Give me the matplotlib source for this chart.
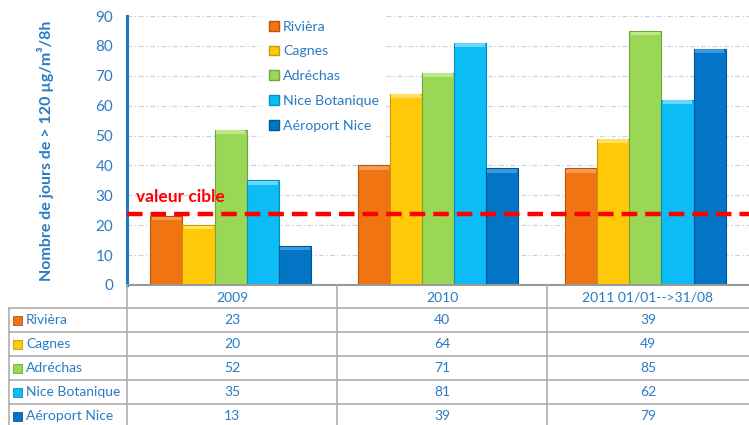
import matplotlib
matplotlib.use("Agg")
import matplotlib.pyplot as plt
import numpy as np
from matplotlib.patches import Rectangle
from matplotlib.lines import Line2D

plt.rcParams['font.family'] = ['Lato', 'DejaVu Sans']

categories = ["2009", "2010", "2011 01/01-->31/08"]
stations = ["Rivièra", "Cagnes", "Adréchas", "Nice Botanique", "Aéroport Nice"]
riviera = [23, 40, 39]
cagnes = [20, 64, 49]
adrechas = [52, 71, 85]
nice_botanique = [35, 81, 62]
aeroport_nice = [13, 39, 79]
series = [riviera, cagnes, adrechas, nice_botanique, aeroport_nice]
target_value = 23.8
target_label = "valeur cible"
ylabel = "Nombre de jours de > 120 µg/m³/8h"

colors = ["#F07512", "#FFC90A", "#9BD756", "#0BBCF5", "#0474C6"]
edges = ["#B5540A", "#C99A00", "#6FA83A", "#0590BD", "#03558F"]
tops = ["#F59A55", "#FFE060", "#BDE88A", "#6AD6FA", "#3A98DC"]
blue_txt = "#2A7BC4"

W, H = 749, 425
fig = plt.figure(figsize=(W / 100, H / 100), dpi=100)

x0, x1 = 127, 749
y_top, y_bot = 16, 285
ax = fig.add_axes([x0 / W, 1 - y_bot / H, (x1 - x0) / W, (y_bot - y_top) / H])
ax.set_xlim(-0.5, 2.5)
ax.set_ylim(0, 90)

for y in range(10, 91, 10):
    ax.axhline(y, color="#C9D3E0", lw=0.9, ls=(0, (4, 2, 1, 2)), zorder=0)

w = 0.155
xs = np.arange(len(categories))
for i, vals in enumerate(series):
    pos = xs + (i - 2) * w
    ax.bar(pos, vals, width=w, color=colors[i], edgecolor=edges[i], lw=0.8,
           label=stations[i], zorder=2)
    for p, v in zip(pos, vals):
        ax.add_patch(Rectangle((p - w / 2 + 0.006, v - 1.4), w - 0.012, 1.2, facecolor=tops[i],
                               edgecolor="none", zorder=3))

ax.axhline(target_value, color="#FF0000", lw=3.2, ls=(0, (3.5, 1.8)), zorder=4)
ax.text(-0.455, target_value + 3.0, target_label, color="#FF0000", fontsize=12.5,
        fontweight="bold", va="bottom", ha="left", zorder=5)

for s in ["top", "right"]:
    ax.spines[s].set_visible(False)
ax.spines["left"].set_color("#1E78C8")
ax.spines["left"].set_linewidth(2.2)
ax.spines["bottom"].set_color("#999999")
ax.spines["bottom"].set_linewidth(1.5)
ax.set_xticks([])
ax.set_yticks(range(0, 91, 10))
ax.tick_params(axis="y", length=0, labelcolor=blue_txt, labelsize=11, pad=10)
ax.set_ylabel(ylabel, color=blue_txt, fontsize=11.5, fontweight="bold", labelpad=30)

handles = [Rectangle((0, 0), 1, 1, facecolor=colors[i], edgecolor=edges[i]) for i in range(5)]
leg = ax.legend(handles, stations, loc="upper left", bbox_to_anchor=((256 - x0) / (x1 - x0), 1.03),
                frameon=True, fancybox=False, edgecolor="none", facecolor="white", framealpha=1,
                fontsize=10.2, labelspacing=0.9, handlelength=0.7, handleheight=0.7,
                handletextpad=0.3, borderpad=0.4)
for t in leg.get_texts():
    t.set_color(blue_txt)
leg.set_zorder(6)

# Data table drawn in pixel coordinates
def fx(px):
    return px / W

def fy(py):
    return 1 - py / H

grid_c = "#A8A8A8"
col_edges = [127, 337, 547, 749]
row_lines = [308, 332, 356, 380, 404, 428]
label_left = 9

def hline(py, xa, xb):
    fig.add_artist(Line2D([fx(xa), fx(xb)], [fy(py), fy(py)], color=grid_c, lw=1.1))

def vline(px, ya, yb):
    fig.add_artist(Line2D([fx(px), fx(px)], [fy(ya), fy(yb)], color=grid_c, lw=1.1))

hline(308, label_left, 749)
for r in row_lines[1:-1]:
    hline(r, label_left, 749)
for c in col_edges[:-1]:
    vline(c, 285, 428)
vline(label_left, 308, 428)

for j, cat in enumerate(categories):
    cx = (col_edges[j] + col_edges[j + 1]) / 2
    fig.text(fx(cx), fy(297.5), cat, color=blue_txt, fontsize=10, ha="center", va="center")

for i, vals in enumerate(series):
    cy = (row_lines[i] + row_lines[i + 1]) / 2
    fig.add_artist(Rectangle((fx(13), fy(cy + 4.5)), 9 / W, 9 / H, facecolor=colors[i],
                             edgecolor=edges[i], lw=0.6, transform=fig.transFigure))
    fig.text(fx(26), fy(cy), stations[i], color=blue_txt, fontsize=10, ha="left", va="center")
    for j, v in enumerate(vals):
        cx = (col_edges[j] + col_edges[j + 1]) / 2
        fig.text(fx(cx), fy(cy), str(v), color=blue_txt, fontsize=10, ha="center", va="center")

fig.savefig("out.png", dpi=100)
